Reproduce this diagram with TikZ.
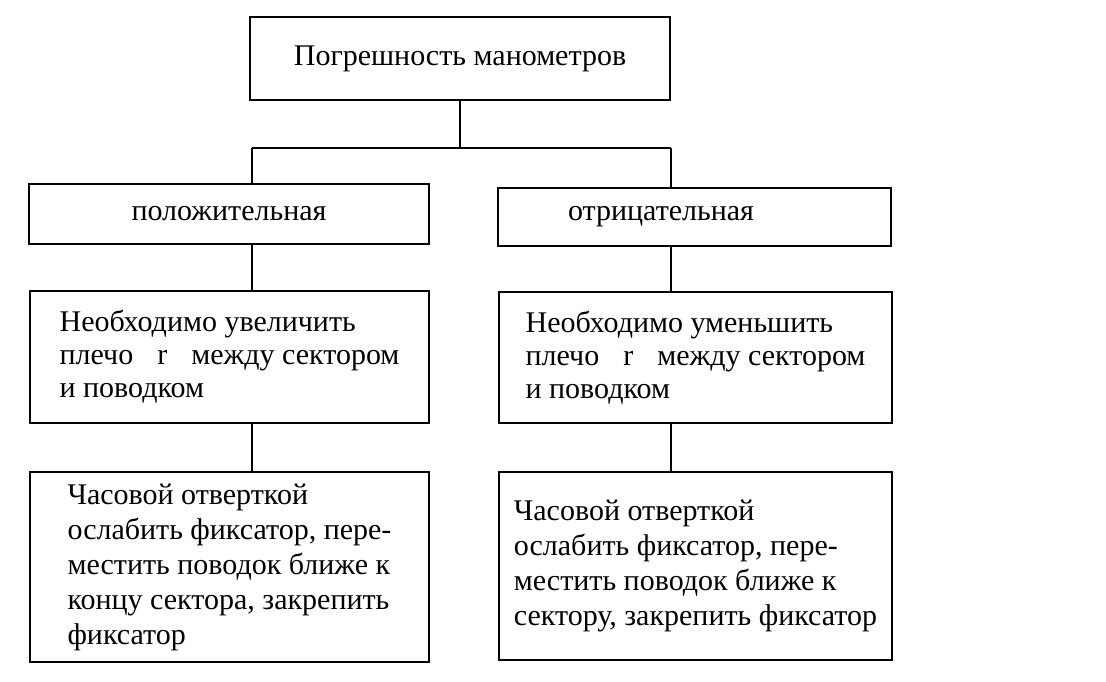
\documentclass[tikz,border=0pt]{standalone}
\usepackage{fontspec}
\setmainfont{Liberation Serif}
\usetikzlibrary{positioning}

\begin{document}
\begin{tikzpicture}[x=0.5pt,y=-0.5pt]
  \tikzset{BoxStyle/.style = {
    shape         = rectangle,
    draw          = black,
    fill          = white,
    line width    = 1.4pt,
    text          = black,
    align         = left,
    inner ysep    = 0pt,
    outer sep     = 0pt,
    font          = \fontsize{15}{16.5}\selectfont
    }
  }
  \tikzset{TallBoxStyle/.style = {
    BoxStyle,
    font          = \fontsize{15}{17.5}\selectfont
    }
  }
  \tikzset{EdgeStyle/.style = {
    draw          = black,
    line width    = 1.1pt
    }
  }
  \useasboundingbox (0,0) rectangle (1106,681);

  \node[BoxStyle, minimum width=210pt, minimum height=41.5pt](A1) at (460,58.5) {Погрешность манометров};
  \node[BoxStyle, minimum width=200pt, minimum height=30pt](B1) at (229,214) {положительная};
  \node[BoxStyle, text width=126.5pt, inner xsep=35pt, minimum height=29pt](B2) at (694.5,217) {отрицательная};
  %
  \node[BoxStyle, minimum width=199.5pt, minimum height=66pt](C1) at (229.5,357)
    {Необходимо увеличить\\ плечо\hspace{12pt}r\hspace{12pt}между сектором\\ и поводком};
  \node[BoxStyle, minimum width=196.5pt, minimum height=65.5pt](C2) at (695.5,357.5)
    {Необходимо уменьшить\\ плечо\hspace{12pt}r\hspace{12pt}между сектором\\ и поводком};
  %
  \node[TallBoxStyle, minimum width=199.5pt, minimum height=95pt](D1) at (229.5,567)
    {Часовой отверткой\\ ослабить фиксатор, пере-\\ местить поводок ближе к\\ концу сектора, закрепить\\ фиксатор};
  \node[TallBoxStyle, minimum width=196.5pt, minimum height=94pt](D2) at (695.5,566)
    {Часовой отверткой\\ ослабить фиксатор, пере-\\ местить поводок ближе к\\ сектору, закрепить фиксатор};
  %
  \coordinate (J1) at (252,148);
  \coordinate (J2) at (671,148);
  \draw[EdgeStyle](A1.south) to (A1.south |- J1);
  \draw[EdgeStyle](J1) to (J2);
  \draw[EdgeStyle](J1) to (J1 |- B1.north);
  \draw[EdgeStyle](J2) to (J2 |- B2.north);
  \draw[EdgeStyle](B1.south -| J1) to (C1.north -| J1);
  \draw[EdgeStyle](B2.south -| J2) to (C2.north -| J2);
  \draw[EdgeStyle](C1.south -| J1) to (D1.north -| J1);
  \draw[EdgeStyle](C2.south -| J2) to (D2.north -| J2);
\end{tikzpicture}
\end{document}
